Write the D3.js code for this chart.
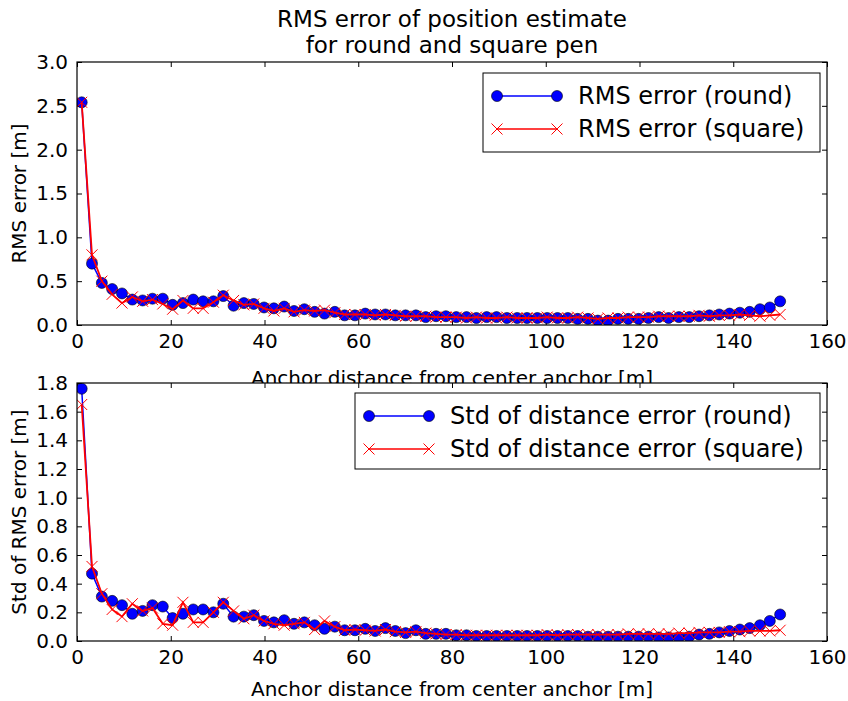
<!DOCTYPE html>
<html>
<head>
<meta charset="utf-8">
<script src="https://cdn.jsdelivr.net/npm/d3@7"></script>
<style>
  body { margin: 0; background: #fff; }
  svg { font-family: "DejaVu Sans", sans-serif; }
</style>
</head>
<body>
<svg id="chart" width="848" height="701"></svg>
<script>
// anchor distance [m] for every sample
var distances = [1, 3.2, 5.3, 7.5, 9.6, 11.8, 14, 16.1, 18.3, 20.4, 22.6, 24.8, 26.9, 29.1, 31.2,
  33.4, 35.6, 37.7, 39.9, 42, 44.2, 46.3, 48.5, 50.7, 52.8, 55, 57.1, 59.3, 61.5, 63.6,
  65.8, 67.9, 70.1, 72.3, 74.4, 76.6, 78.7, 80.9, 83.1, 85.2, 87.4, 89.5, 91.7, 93.9, 96,
  98.2, 100.3, 102.5, 104.7, 106.8, 109, 111.1, 113.3, 115.4, 117.6, 119.8, 121.9, 124.1, 126.2, 128.4,
  130.6, 132.7, 134.9, 137, 139.2, 141.4, 143.5, 145.7, 147.8, 150];

var rmsRound = [2.54, 0.70, 0.48, 0.41, 0.36, 0.29, 0.28, 0.30, 0.30, 0.23, 0.25, 0.29, 0.27, 0.27, 0.33,
  0.22, 0.25, 0.24, 0.20, 0.19, 0.21, 0.16, 0.18, 0.15, 0.13, 0.15, 0.11, 0.11, 0.13, 0.12,
  0.12, 0.11, 0.11, 0.11, 0.09, 0.10, 0.10, 0.09, 0.09, 0.08, 0.09, 0.09, 0.08, 0.08, 0.08,
  0.08, 0.08, 0.08, 0.08, 0.07, 0.07, 0.05, 0.05, 0.07, 0.07, 0.07, 0.08, 0.09, 0.08, 0.09,
  0.09, 0.10, 0.11, 0.12, 0.13, 0.14, 0.15, 0.18, 0.20, 0.27];

var rmsSquare = [2.54, 0.80, 0.50, 0.35, 0.25, 0.32, 0.27, 0.29, 0.24, 0.18, 0.28, 0.19, 0.19, 0.26, 0.34,
  0.28, 0.23, 0.24, 0.19, 0.16, 0.19, 0.15, 0.17, 0.16, 0.17, 0.14, 0.12, 0.12, 0.12, 0.11,
  0.12, 0.11, 0.10, 0.10, 0.10, 0.09, 0.09, 0.09, 0.08, 0.09, 0.08, 0.08, 0.09, 0.08, 0.08,
  0.08, 0.09, 0.08, 0.08, 0.09, 0.08, 0.07, 0.08, 0.08, 0.09, 0.09, 0.09, 0.10, 0.10, 0.10,
  0.10, 0.11, 0.10, 0.11, 0.11, 0.12, 0.11, 0.10, 0.11, 0.12];

var stdRound = [1.76, 0.47, 0.31, 0.28, 0.25, 0.19, 0.21, 0.25, 0.24, 0.16, 0.19, 0.22, 0.22, 0.20, 0.26,
  0.17, 0.17, 0.18, 0.14, 0.13, 0.145, 0.12, 0.13, 0.11, 0.085, 0.10, 0.075, 0.075, 0.085, 0.07,
  0.09, 0.07, 0.055, 0.075, 0.05, 0.05, 0.05, 0.04, 0.04, 0.035, 0.035, 0.035, 0.035, 0.035, 0.035,
  0.035, 0.035, 0.035, 0.035, 0.035, 0.03, 0.03, 0.03, 0.03, 0.03, 0.03, 0.03, 0.025, 0.025, 0.025,
  0.03, 0.045, 0.05, 0.06, 0.07, 0.08, 0.09, 0.11, 0.14, 0.185];

var stdSquare = [1.65, 0.52, 0.33, 0.22, 0.17, 0.26, 0.21, 0.23, 0.12, 0.11, 0.27, 0.13, 0.13, 0.20, 0.27,
  0.21, 0.155, 0.18, 0.14, 0.12, 0.11, 0.12, 0.13, 0.08, 0.14, 0.10, 0.075, 0.08, 0.075, 0.07,
  0.08, 0.065, 0.06, 0.065, 0.055, 0.05, 0.045, 0.045, 0.04, 0.04, 0.04, 0.04, 0.04, 0.04, 0.04,
  0.04, 0.045, 0.04, 0.045, 0.045, 0.045, 0.045, 0.045, 0.045, 0.05, 0.05, 0.05, 0.05, 0.05, 0.055,
  0.055, 0.06, 0.06, 0.06, 0.065, 0.065, 0.07, 0.07, 0.07, 0.075];

var xTicks = [0, 20, 40, 60, 80, 100, 120, 140, 160];
var rmsTicks = [0, 0.5, 1, 1.5, 2, 2.5, 3];
var stdTicks = [0, 0.2, 0.4, 0.6, 0.8, 1, 1.2, 1.4, 1.6, 1.8];

var svg = d3.select('#chart');
var left = 77, right = 827;

// one subplot: frame, inward ticks on all sides, lines, markers, legend
function panel(top, bottom, yMax, yTicks, yFmt, round, square, yLabel, names, legBox) {
    var x = d3.scaleLinear().domain([0, 160]).range([left, right]);
    var y = d3.scaleLinear().domain([0, yMax]).range([bottom, top]);
    var g = svg.append('g');

    g.append('rect').attr('x', left).attr('y', top)
        .attr('width', right - left).attr('height', bottom - top)
        .attr('fill', '#fff');

    var tl = 5;
    g.append('g').attr('transform', 'translate(0,' + bottom + ')')
        .call(d3.axisBottom(x).tickValues(xTicks).tickSizeInner(-tl).tickSizeOuter(0).tickPadding(9).tickFormat(d3.format('d')));
    g.append('g').attr('transform', 'translate(0,' + top + ')')
        .call(d3.axisTop(x).tickValues(xTicks).tickSizeInner(-tl).tickSizeOuter(0).tickFormat(''));
    g.append('g').attr('transform', 'translate(' + left + ',0)')
        .call(d3.axisLeft(y).tickValues(yTicks).tickSizeInner(-tl).tickSizeOuter(0).tickPadding(9).tickFormat(d3.format(yFmt)));
    g.append('g').attr('transform', 'translate(' + right + ',0)')
        .call(d3.axisRight(y).tickValues(yTicks).tickSizeInner(-tl).tickSizeOuter(0).tickFormat(''));
    g.selectAll('.domain').remove();
    g.selectAll('.tick line').attr('stroke', '#000');
    g.selectAll('.tick text').attr('font-size', 20).attr('fill', '#000')
        .attr('font-family', '"DejaVu Sans", sans-serif');

    var clip = 'clip' + top;
    g.append('clipPath').attr('id', clip).append('rect')
        .attr('x', left).attr('y', top).attr('width', right - left).attr('height', bottom - top);
    var plot = g.append('g').attr('clip-path', 'url(#' + clip + ')');

    var line = d3.line().x(function(d, i) { return x(distances[i]); }).y(function(d) { return y(d); });

    plot.append('path').datum(round).attr('d', line)
        .attr('fill', 'none').attr('stroke', '#0000ff').attr('stroke-width', 1.5);
    plot.selectAll('circle.r').data(round).enter().append('circle')
        .attr('class', 'r')
        .attr('cx', function(d, i) { return x(distances[i]); })
        .attr('cy', function(d) { return y(d); })
        .attr('r', 5.5).attr('fill', '#0000ff').attr('stroke', '#000').attr('stroke-width', 0.6);

    plot.append('path').datum(square).attr('d', line)
        .attr('fill', 'none').attr('stroke', '#ff0000').attr('stroke-width', 1.8);
    var s = 5.5;
    plot.selectAll('path.x').data(square).enter().append('path')
        .attr('class', 'x')
        .attr('d', function(d, i) {
            var cx = x(distances[i]), cy = y(d);
            return 'M' + (cx - s) + ',' + (cy - s) + 'L' + (cx + s) + ',' + (cy + s) +
                'M' + (cx - s) + ',' + (cy + s) + 'L' + (cx + s) + ',' + (cy - s);
        })
        .attr('stroke', '#ff0000').attr('stroke-width', 1).attr('fill', 'none');

    g.append('rect').attr('x', left).attr('y', top)
        .attr('width', right - left).attr('height', bottom - top)
        .attr('fill', 'none').attr('stroke', '#000').attr('stroke-width', 1.2);

    g.append('text')
        .attr('transform', 'translate(26,' + ((top + bottom) / 2) + ') rotate(-90)')
        .attr('text-anchor', 'middle').attr('font-size', 20).text(yLabel);

    // legend
    var leg = g.append('g');
    leg.append('rect').attr('x', legBox.x).attr('y', legBox.y)
        .attr('width', legBox.w).attr('height', legBox.h)
        .attr('fill', '#fff').attr('stroke', '#000').attr('stroke-width', 1);
    [0, 1].forEach(function(k) {
        var ly = legBox.y + 23 + k * 33;
        var x0 = legBox.x + 14, x1 = x0 + 60;
        var col = k === 0 ? '#0000ff' : '#ff0000';
        leg.append('line').attr('x1', x0).attr('x2', x1).attr('y1', ly).attr('y2', ly)
            .attr('stroke', col).attr('stroke-width', 1.5);
        [x0, x1].forEach(function(mx) {
            if (k === 0) {
                leg.append('circle').attr('cx', mx).attr('cy', ly).attr('r', 5.5)
                    .attr('fill', '#0000ff').attr('stroke', '#000').attr('stroke-width', 0.6);
            } else {
                leg.append('path')
                    .attr('d', 'M' + (mx - s) + ',' + (ly - s) + 'L' + (mx + s) + ',' + (ly + s) +
                        'M' + (mx - s) + ',' + (ly + s) + 'L' + (mx + s) + ',' + (ly - s))
                    .attr('stroke', '#ff0000').attr('stroke-width', 1);
            }
        });
        leg.append('text').attr('x', x1 + 21).attr('y', ly).attr('dy', '0.35em')
            .attr('font-size', 24).text(names[k]);
    });
}

svg.append('text').attr('x', 452).attr('y', 27).attr('text-anchor', 'middle')
    .attr('font-size', 23).text('RMS error of position estimate');
svg.append('text').attr('x', 452).attr('y', 53).attr('text-anchor', 'middle')
    .attr('font-size', 23).text('for round and square pen');

panel(62, 325, 3.0, rmsTicks, '.1f', rmsRound, rmsSquare, 'RMS error [m]',
    ['RMS error (round)', 'RMS error (square)'], {x: 483, y: 73, w: 337, h: 79});

// x label of the upper plot sits partly under the lower plot
svg.append('text').attr('x', 452).attr('y', 385).attr('text-anchor', 'middle')
    .attr('font-size', 20).text('Anchor distance from center anchor [m]');

panel(383, 641, 1.8, stdTicks, '.1f', stdRound, stdSquare, 'Std of RMS error [m]',
    ['Std of distance error (round)', 'Std of distance error (square)'], {x: 355, y: 393, w: 465, h: 76});

svg.append('text').attr('x', 452).attr('y', 696).attr('text-anchor', 'middle')
    .attr('font-size', 20).text('Anchor distance from center anchor [m]');
</script>
</body>
</html>
